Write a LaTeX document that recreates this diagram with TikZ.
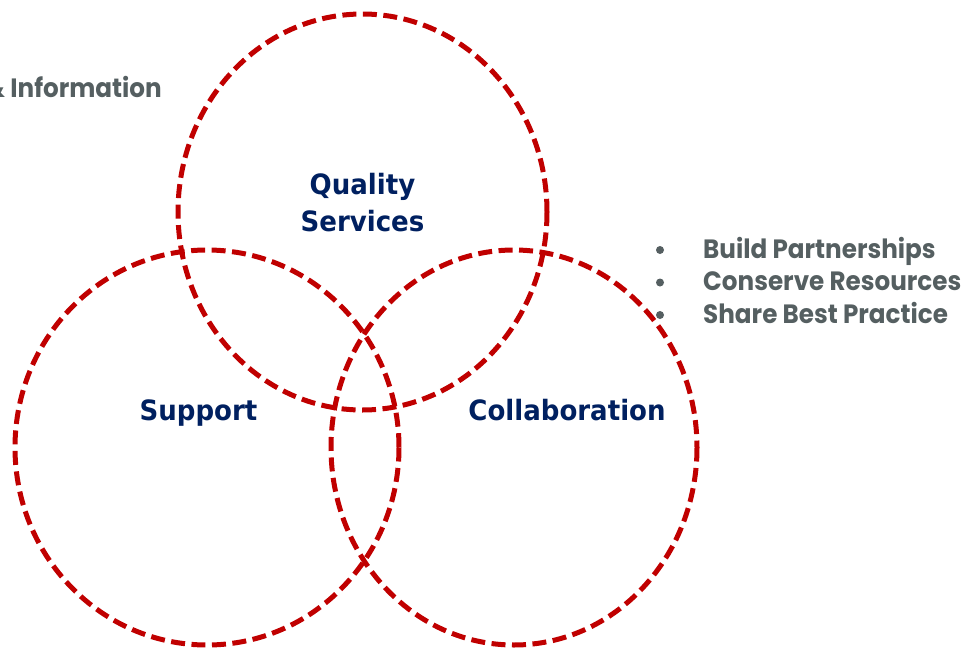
\documentclass[tikz,border=0pt]{standalone}
\usepackage{fontspec}
\usepackage{tikz}
\usetikzlibrary{positioning}

\newfontfamily\vennfont{DejaVu Sans}[FakeStretch=0.93]
\newfontfamily\notefont{Poppins}[FakeStretch=0.93]

\definecolor{vennred}{RGB}{192,0,0}
\definecolor{venntext}{RGB}{0,32,96}
\definecolor{notegray}{RGB}{85,95,97}

\tikzset{
    venn/.style={draw=vennred, line width=5pt, dash pattern=on 14pt off 6.5pt},
    setlabel/.style={text=venntext, font=\vennfont\bfseries\fontsize{28}{37}\selectfont, align=center, inner sep=0pt},
    note/.style={text=notegray, font=\notefont\bfseries\fontsize{26.5}{32}\selectfont, inner sep=0pt, anchor=base west},
    dot/.style={circle, fill=notegray, minimum size=8pt, inner sep=0pt}
}

\begin{document}
\begin{tikzpicture}[x=1pt,y=-1pt]
            \useasboundingbox (0,0) rectangle (978,648);
            \clip (0,0) rectangle (978,648);

            % the three sets
            \draw[venn] (362.5,212) ellipse [x radius=184.5, y radius=198];
            \draw[venn] (207,447.5) ellipse [x radius=192, y radius=197.5];
            \draw[venn] (514,447.5) ellipse [x radius=183, y radius=197.5];

            \node[setlabel] (quality) at (362.5,203) {Quality\\Services};
            \node[setlabel, anchor=base] (support) at (198.5,420) {Support};
            \node[setlabel, anchor=base] (collab) at (567,420) {Collaboration};

            % notes
            \node[note, anchor=base east] (info) at (162,97) {\& Information};

            \node[note] (build) at (703,258) {Build Partnerships};
            \node[note] (conserve) at (703,290.5) {Conserve Resources};
            \node[note] (share) at (703,323) {Share Best Practice};
            \node[dot] (d1) at (660,250) {};
            \node[dot] (d2) at (660,282.5) {};
            \node[dot] (d3) at (660,315) {};
        \end{tikzpicture}
\end{document}
